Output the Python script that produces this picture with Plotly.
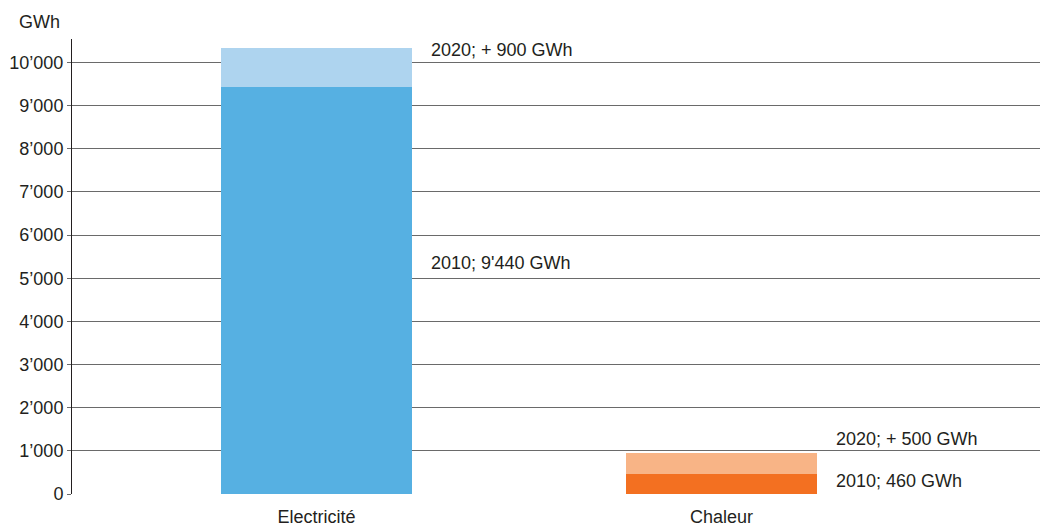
import plotly.graph_objects as go

categories = ["Electricité", "Chaleur"]
values_2010 = [9440, 460]
values_2020_add = [900, 500]
colors_2010 = ["#56B0E2", "#F37021"]
colors_2020 = ["#AED4EF", "#F8B486"]
y_ticks = [0, 1000, 2000, 3000, 4000, 5000, 6000, 7000, 8000, 9000, 10000]
y_tick_labels = ["0", "1’000", "2’000", "3’000", "4’000", "5’000", "6’000", "7’000", "8’000", "9’000", "10’000"]
label_texts = [
    ["2010; 9'440 GWh", "2020; + 900 GWh"],
    ["2010; 460 GWh", "2020; + 500 GWh"],
]
label_y = [[5350, 10290], [300, 1275]]

FONT = "Liberation Sans, Arial, sans-serif"
TXT = "#231F20"
BAR_W = 0.4716

fig = go.Figure()
fig.add_trace(go.Bar(x=categories, y=values_2010, marker=dict(color=colors_2010, line=dict(width=0)),
                     width=BAR_W, showlegend=False, hoverinfo="skip"))
fig.add_trace(go.Bar(x=categories, y=values_2020_add, marker=dict(color=colors_2020, line=dict(width=0)),
                     width=BAR_W, showlegend=False, hoverinfo="skip"))

for i, cat in enumerate(categories):
    for j in range(2):
        fig.add_annotation(x=i + BAR_W / 2, y=label_y[i][j], xref="x", yref="y",
                           text=label_texts[i][j], showarrow=False, xanchor="left", yanchor="middle",
                           xshift=17, font=dict(family=FONT, size=18, color=TXT))

fig.add_annotation(x=(17 - 72) / 968, y=(527 - 22 - 33) / 455, xref="paper", yref="paper", text="GWh",
                   showarrow=False, xanchor="left", yanchor="middle",
                   font=dict(family=FONT, size=18, color=TXT))

fig.update_layout(
    barmode="stack",
    width=1040, height=527,
    margin=dict(l=72, r=0, t=39, b=33, autoexpand=False),
    paper_bgcolor="white", plot_bgcolor="white",
    font=dict(family=FONT, size=18, color=TXT),
    xaxis=dict(type="category", range=[-0.6037, 1.7864], showgrid=False, showline=False,
               ticks="", ticklabelstandoff=10, tickfont=dict(family=FONT, size=18, color=TXT), zeroline=False),
    yaxis=dict(range=[0, 10545], tickvals=y_ticks, ticktext=y_tick_labels, showgrid=True,
               gridcolor="#6a6a6a", gridwidth=1, zeroline=False, showline=True, linecolor="#231F20",
               linewidth=1, ticks="outside", ticklen=4, tickcolor="#6a6a6a",
               tickfont=dict(family=FONT, size=18, color=TXT)),
)

fig.write_html("out.html", config={"displayModeBar": False})

with open("out.html", "r", encoding="utf-8") as f:
    html = f.read()
html = html.replace("<head>", "<head><style>html,body{margin:0;padding:0;overflow:hidden}</style>", 1)
with open("out.html", "w", encoding="utf-8") as f:
    f.write(html)
